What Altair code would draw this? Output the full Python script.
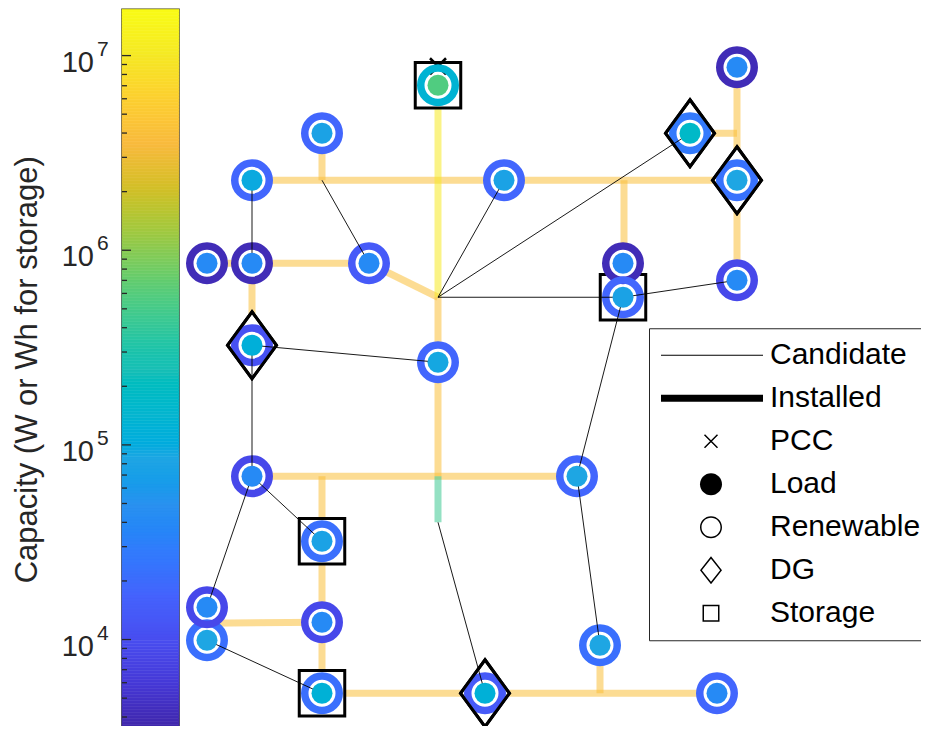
import numpy as np
import pandas as pd
import altair as alt

FONT = "Liberation Sans"
INK = "#262626"

# ---------------- colour bar (capacity, W or Wh) ----------------
cb_min, cb_max = 3.42e3, 1.73e7
cb_title = "Capacity (W or Wh for storage)"
major_ticks = [1e4, 1e5, 1e6, 1e7]

# parula colour map stops
parula = ["#3e26a8", "#4537d5", "#484df0", "#4563fd", "#327cfc", "#2b91ef",
          "#20a5e3", "#08b5d0", "#19bfb6", "#37c897", "#64cd6f", "#9dc943",
          "#d1bf27", "#f8ba3d", "#fccf30", "#f5e924", "#f9fb15"]

# ---------------- network nodes (layout coordinates) ----------------
node_x = [436, 320, 250, 502, 205, 250, 367, 250, 436, 688, 735, 735, 621,
          621, 735, 250, 320, 575, 205, 205, 320, 320, 483, 598, 715]
node_y = [85, 133, 180, 180, 263, 263, 263, 345, 362, 133, 67, 180, 263,
          297, 280, 476, 541, 476, 640, 607, 622, 693, 693, 645, 693]
# renewable capacity (ring colour)
ring_cap = [1.34e5, 1.8e4, 1.8e4, 1.8e4, 4.1e3, 4.1e3, 1.34e4, 1.1e4, 1.8e4,
            2.76e4, 4.1e3, 2.3e4, 4.1e3, 1.8e4, 8.8e3, 8.8e3, 2.14e4, 1.8e4,
            2.14e4, 8.8e3, 8.8e3, 2.14e4, 1.34e4, 2.14e4, 1.8e4]
# load capacity (inner dot colour)
load_cap = [5.7e5, 7.7e4, 9.5e4, 7.7e4, 4.05e4, 4.05e4, 4.05e4, 1.15e5, 9.0e4,
            1.73e5, 4.05e4, 8.5e4, 4.05e4, 7.7e4, 4.05e4, 4.05e4, 7.7e4, 8.5e4,
            8.5e4, 4.05e4, 4.05e4, 1.23e5, 1.2e5, 8.5e4, 4.05e4]
node_kind = ["storage", "", "", "", "", "", "", "dg", "", "dg", "", "dg", "",
             "storage", "", "", "storage", "", "", "", "", "storage", "dg", "", ""]
pcc_x, pcc_y = [436], [66]

# ---------------- installed lines ----------------
inst_x1 = [250, 320, 622, 688, 735, 205, 367, 250, 436, 250, 320, 205, 320, 598, 436, 436]
inst_y1 = [180, 133, 180, 133, 67, 263, 263, 263, 297, 476, 476, 623, 693, 645, 66, 476]
inst_x2 = [735, 320, 622, 735, 735, 367, 436, 250, 436, 575, 320, 320, 715, 598, 436, 436]
inst_y2 = [180, 180, 263, 133, 280, 263, 297, 345, 476, 476, 693, 622, 693, 693, 297, 522]
inst_cap = [4.06e6] * 14 + [1.05e7, 4.5e5]

# ---------------- candidate lines ----------------
cand_x1 = [250, 320, 436, 436, 436, 621, 250, 250, 250, 250, 205, 436, 621, 575]
cand_y1 = [180, 180, 297, 297, 297, 297, 345, 345, 476, 476, 640, 522, 297, 476]
cand_x2 = [250, 367, 502, 688, 621, 735, 436, 250, 205, 320, 320, 483, 575, 598]
cand_y2 = [263, 263, 180, 133, 297, 280, 362, 476, 607, 541, 693, 693, 476, 645]

# ---------------- legend ----------------
leg_labels = ["Candidate", "Installed", "PCC", "Load", "Renewable", "DG", "Storage"]

# ======================================================================
lo, hi = np.log10(cb_min), np.log10(cb_max)
cdomain = [float(v) for v in 10 ** np.linspace(lo, hi, len(parula))]
cscale = alt.Scale(type="log", domain=cdomain, range=parula, nice=False, zero=False, clamp=True)

CB_W, H = 57, 721
GX0, GY0 = 184.0, 9.0     # layout coordinate at the graph panel's top-left
GW = 720

# colour bar
edges = 10 ** np.linspace(lo, hi, 241)
cb_df = pd.DataFrame({"lo": edges[:-1], "hi": edges[1:],
                      "mid": np.sqrt(edges[:-1] * edges[1:])})
minor_ticks = [k * 10.0 ** d for d in range(3, 8) for k in range(2, 10)
               if cb_min <= k * 10.0 ** d <= cb_max]
yscale = alt.Scale(type="log", domain=[cb_min, cb_max], nice=False, zero=False)

grad = alt.Chart(cb_df).mark_rect(strokeWidth=0.6).encode(
    y=alt.Y("lo:Q", scale=yscale, axis=None),
    y2="hi:Q",
    x=alt.value(0), x2=alt.value(CB_W),
    color=alt.Color("mid:Q", scale=cscale, legend=None),
    stroke=alt.Stroke("mid:Q", scale=cscale, legend=None),
)
tmaj = alt.Chart(pd.DataFrame({"v": major_ticks})).mark_rule(color=INK, strokeWidth=1.3).encode(
    y=alt.Y("v:Q", scale=yscale, axis=None), x=alt.value(0), x2=alt.value(9))
tmin = alt.Chart(pd.DataFrame({"v": minor_ticks})).mark_rule(color=INK, strokeWidth=1.3).encode(
    y=alt.Y("v:Q", scale=yscale, axis=None), x=alt.value(0), x2=alt.value(5))
lab_df = pd.DataFrame({"v": major_ticks, "base": ["10"] * len(major_ticks),
                       "exp": [str(int(round(np.log10(v)))) for v in major_ticks]})
base_txt = alt.Chart(lab_df).mark_text(align="right", baseline="alphabetic", dy=16,
                                       font=FONT, fontSize=29, color=INK).encode(
    y=alt.Y("v:Q", scale=yscale, axis=None), x=alt.value(-28), text="base:N")
exp_txt = alt.Chart(lab_df).mark_text(align="left", baseline="alphabetic", dy=0,
                                      font=FONT, fontSize=21, color=INK).encode(
    y=alt.Y("v:Q", scale=yscale, axis=None), x=alt.value(-25), text="exp:N")
title_txt = alt.Chart(pd.DataFrame({"t": [cb_title]})).mark_text(
    angle=270, align="center", baseline="alphabetic", font=FONT, fontSize=31,
    color=INK).encode(x=alt.value(-85), y=alt.value(H / 2), text="t:N")

cbar = alt.layer(grad, tmaj, tmin, base_txt, exp_txt, title_txt).properties(
    width=CB_W, height=H, view=alt.ViewBackground(stroke=INK, strokeWidth=1.5))

# graph
xs = alt.Scale(domain=[GX0, GX0 + GW], nice=False, zero=False)
ys = alt.Scale(domain=[GY0, GY0 + H], nice=False, zero=False, reverse=True)

nodes = pd.DataFrame({"x": node_x, "y": node_y, "ring": ring_cap,
                      "load": load_cap, "kind": node_kind})
inst = pd.DataFrame({"x1": inst_x1, "y1": inst_y1, "x2": inst_x2, "y2": inst_y2, "cap": inst_cap})
cand = pd.DataFrame({"x1": cand_x1, "y1": cand_y1, "x2": cand_x2, "y2": cand_y2})
pcc = pd.DataFrame({"x": pcc_x, "y": pcc_y})

X = lambda f: alt.X(f, scale=xs, axis=None)
Y = lambda f: alt.Y(f, scale=ys, axis=None)

DIAMOND = "M0,-1.367L1,0L0,1.367L-1,0Z"
XPATH = "M-1,-1L1,1M-1,1L1,-1"

l_inst = alt.Chart(inst).mark_rule(strokeWidth=7, opacity=0.55, strokeCap="butt").encode(
    x=X("x1:Q"), y=Y("y1:Q"), x2="x2:Q", y2="y2:Q",
    color=alt.Color("cap:Q", scale=cscale, legend=None))
nb = alt.Chart(nodes)
l_sq = nb.transform_filter("datum.kind == 'storage'").mark_point(
    shape="square", size=2070, filled=True, fill="white", stroke="black",
    strokeWidth=3, opacity=1).encode(x=X("x:Q"), y=Y("y:Q"))
l_dg = nb.transform_filter("datum.kind == 'dg'").mark_point(
    shape=DIAMOND, size=2401, filled=True, fill="white", stroke="black",
    strokeWidth=3, opacity=1).encode(x=X("x:Q"), y=Y("y:Q"))
l_white = nb.mark_point(shape="circle", size=1190, filled=True, fill="white",
                        strokeWidth=0, opacity=1).encode(x=X("x:Q"), y=Y("y:Q"))
l_pcc = alt.Chart(pcc).mark_point(shape=XPATH, size=256, filled=False, stroke="black",
                                  strokeWidth=2.5, opacity=1).encode(x=X("x:Q"), y=Y("y:Q"))
l_ring = nb.mark_point(shape="circle", size=1190, filled=False, strokeWidth=7.5,
                       opacity=1).encode(
    x=X("x:Q"), y=Y("y:Q"), stroke=alt.Stroke("ring:Q", scale=cscale, legend=None))
l_cand = alt.Chart(cand).mark_rule(color="black", strokeWidth=1, opacity=0.9).encode(
    x=X("x1:Q"), y=Y("y1:Q"), x2="x2:Q", y2="y2:Q")
l_load = nb.mark_point(shape="circle", size=441, filled=True, strokeWidth=0,
                       opacity=1).encode(
    x=X("x:Q"), y=Y("y:Q"), color=alt.Color("load:Q", scale=cscale, legend=None))
l_dg2 = nb.transform_filter("datum.kind == 'dg'").mark_point(
    shape=DIAMOND, size=2401, filled=False, stroke="black", strokeWidth=3,
    opacity=1).encode(x=X("x:Q"), y=Y("y:Q"))

# legend (native, merged shape + fill); outlines drawn as filled paths
def circ(r, sweep):
    return (f"M{r},0A{r},{r},0,1,{sweep},{-r},0A{r},{r},0,1,{sweep},{r},0Z")

RING = circ(0.2115, 1) + circ(0.1827, 0)
DISC = circ(0.2115, 1)
XSYM = ("M-0.115,-0.135L0.135,0.115L0.115,0.135L-0.135,-0.115Z"
        "M0.115,-0.135L0.135,-0.115L-0.115,0.135L-0.135,0.115Z")
DIA = "M0,-0.269L0.2115,0L0,0.269L-0.2115,0Z" + "M0,-0.223L-0.1755,0L0,0.223L0.1755,0Z"
SQ = "M-0.1635,-0.1635H0.1635V0.1635H-0.1635Z" + "M-0.1346,-0.1346V0.1346H0.1346V-0.1346Z"
leg_shapes = ["M-1,-0.0096H1V0.0096H-1Z", "M-1,-0.0673H1V0.0673H-1Z",
              XSYM, DISC, RING, DIA, SQ]
leg_fills = ["black"] * len(leg_labels)
leg = alt.Legend(title=None, orient="none", legendX=647 - GX0, legendY=319)
l_leg = alt.Chart(pd.DataFrame({"kind": leg_labels})).transform_filter("false").mark_point(
    filled=True, strokeWidth=0, opacity=1).encode(
    x=X("x:Q"), y=Y("y:Q"),
    shape=alt.Shape("kind:N", scale=alt.Scale(domain=leg_labels, range=leg_shapes), legend=leg),
    fill=alt.Fill("kind:N", scale=alt.Scale(domain=leg_labels, range=leg_fills), legend=leg),
)

graph = alt.layer(l_inst, l_sq, l_dg, l_white, l_pcc, l_ring, l_cand, l_load, l_dg2,
                  l_leg).properties(width=GW, height=H,
                                    view=alt.ViewBackground(stroke="transparent"))

chart = alt.hconcat(cbar, graph, spacing=-7).resolve_scale(
    shape="independent", fill="independent"
).properties(
    padding={"left": 3, "top": -0.75, "right": -13.5, "bottom": -7}
).configure(font=FONT).configure_view(stroke="transparent").configure_legend(
    padding=12, strokeColor=INK, fillColor="white", symbolSize=10816,
    symbolStrokeWidth=0, labelFont=FONT,
    labelFontSize=30, labelColor="black", labelLimit=400, clipHeight=30,
    rowPadding=13, labelOffset=7, symbolOffset=-2)

chart.save("out.html", embed_options={"renderer": "svg", "actions": False})
